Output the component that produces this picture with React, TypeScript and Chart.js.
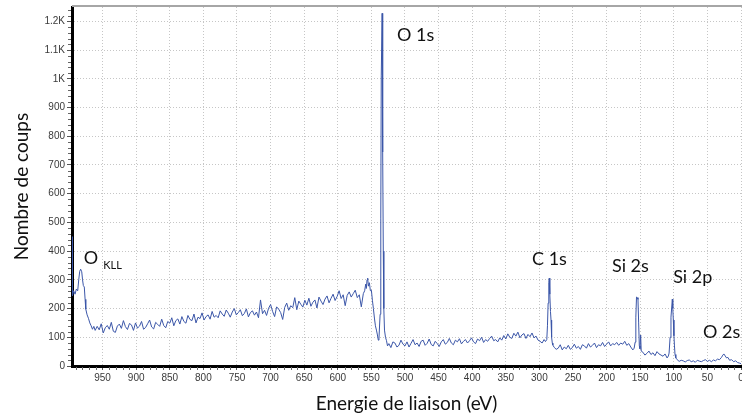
import React, { useEffect, useRef } from "react";
import { Chart, registerables } from "chart.js";

Chart.register(...registerables);

// XPS survey spectrum: [binding energy (eV), counts]
const oKllRegion: [number, number][] = [
  [995.5, 450], [994.8, 245], [993, 262], [991, 250], [989, 268], [987, 262], [985.5, 300],
  [984, 330], [982.6, 337], [981, 328], [979.8, 300], [978.6, 280], [977.2, 275], [976, 232],
  [975, 198], [973, 178], [971, 166], [969, 150], [967, 140], [965, 128], [963, 138], [961, 124],
];

const highEnergyBackground: [number, number][] = [
  [958, 138], [955, 126], [952, 147], [949, 115], [946, 133], [943, 141], [940, 128], [937, 152],
  [934, 121], [931, 117], [928, 139], [925, 146], [922, 131], [919, 158], [916, 137], [913, 127],
  [910, 148], [907, 143], [904, 124], [901, 150], [898, 132], [895, 139], [892, 155], [889, 128],
  [886, 134], [883, 147], [880, 160], [877, 136], [874, 129], [871, 152], [868, 145], [865, 138],
  [862, 163], [859, 141], [856, 133], [853, 155], [850, 149], [847, 168], [844, 140], [841, 158],
  [838, 164], [835, 146], [832, 172], [829, 155], [826, 149], [823, 176], [820, 162], [817, 158],
  [814, 181], [811, 150], [808, 170], [805, 165], [802, 185], [799, 160], [796, 172], [793, 178],
  [790, 163], [787, 190], [784, 170], [781, 176], [778, 168], [775, 192], [772, 181], [769, 173],
  [766, 195], [763, 184], [760, 170], [757, 188], [754, 200], [751, 178], [748, 186], [745, 196],
  [742, 175], [739, 183], [736, 199], [733, 171], [730, 186], [727, 192], [724, 177], [721, 188],
  [718, 168], [715, 230], [712, 182], [709, 194], [706, 176], [703, 201], [700, 214], [697, 190],
  [694, 172], [691, 206], [688, 198], [685, 186], [682, 162], [679, 204], [676, 219], [673, 194],
  [670, 210], [667, 203], [664, 238], [661, 196], [658, 226], [655, 215], [652, 205], [649, 229],
  [646, 212], [643, 236], [640, 208], [637, 222], [634, 230], [631, 202], [628, 240], [625, 226],
  [622, 214], [619, 233], [616, 244], [613, 220], [610, 236], [607, 250], [604, 228], [601, 242],
  [598, 262], [595, 235], [592, 248], [589, 210], [586, 246], [583, 258], [580, 240], [577, 252],
  [574, 264], [571, 238], [568, 248], [565, 206], [562, 252],
];

const o1sRegion: [number, number][] = [
  [560, 262], [558.5, 285], [557.5, 270], [556.5, 300], [555.5, 306], [554.5, 278], [553, 290],
  [551.5, 262], [550, 264], [548.5, 229], [547, 200], [545.5, 167], [544, 140], [542.5, 125],
  [541, 108], [539.7, 90], [538.7, 97], [537, 180], [536, 515], [535.3, 1010], [534, 1228],
  [533.6, 1012], [533.2, 862], [532.8, 745], [532.3, 400], [531.5, 200], [530.5, 125],
  [529, 100], [527.5, 88], [526, 70],
];

const midBackground: [number, number][] = [
  [524, 78], [521, 64], [518, 84], [515, 80], [512, 66], [509, 72], [506, 90], [503, 76],
  [500, 70], [497, 84], [494, 66], [491, 79], [488, 92], [485, 74], [482, 80], [479, 68],
  [476, 86], [473, 90], [470, 72], [467, 79], [464, 94], [461, 75], [458, 70], [455, 86],
  [452, 78], [449, 68], [446, 84], [443, 92], [440, 76], [437, 82], [434, 96], [431, 80],
  [428, 74], [425, 90], [422, 84], [419, 95], [416, 77], [413, 86], [410, 92], [407, 80],
  [404, 88], [401, 98], [398, 84], [395, 78], [392, 94], [389, 88], [386, 100], [383, 82],
  [380, 92], [377, 86], [374, 96], [371, 104], [368, 88], [365, 92], [362, 84], [359, 98],
  [356, 90], [353, 106], [350, 94], [347, 112], [344, 100], [341, 96], [338, 114], [335, 104],
  [332, 118], [329, 98], [326, 108], [323, 113], [320, 96], [317, 110], [314, 102], [311, 115],
  [308, 98], [305, 104], [302, 90], [299, 86], [296, 80], [293, 92],
];

const c1sRegion: [number, number][] = [
  [291, 85], [289, 92], [288, 140], [287, 219], [286, 290], [285.3, 306], [284.5, 250],
  [283.5, 190], [282.7, 160], [281.8, 100], [280.8, 80], [280, 73],
];

const lowBackground: [number, number][] = [
  [278, 65], [275, 58], [272, 62], [269, 74], [266, 56], [263, 66], [260, 60], [257, 72],
  [254, 58], [251, 64], [248, 76], [245, 62], [242, 68], [239, 58], [236, 74], [233, 70],
  [230, 62], [227, 78], [224, 66], [221, 72], [218, 80], [215, 64], [212, 74], [209, 70],
  [206, 82], [203, 68], [200, 76], [197, 84], [194, 70], [191, 78], [188, 74], [185, 82],
  [182, 72], [179, 80], [176, 76], [173, 86], [170, 72], [167, 78], [164, 66], [161, 56],
];

const si2sRegion: [number, number][] = [
  [159, 62], [157.5, 83], [156.5, 170], [155.5, 240], [154.3, 238], [153.3, 232], [152.3, 150],
  [151.3, 70], [150.3, 60], [149.3, 108], [148.5, 52],
];

const siBackground: [number, number][] = [
  [146, 48], [143, 38], [140, 44], [137, 52], [134, 40], [131, 46], [128, 36], [125, 50],
  [122, 42], [119, 38], [116, 34], [113, 42], [110, 28],
];

const si2pRegion: [number, number][] = [
  [108, 35], [107, 45], [105.5, 100], [104.2, 170], [102.2, 233], [101.5, 200], [100.7, 160],
  [99.8, 105], [99, 70], [98.2, 40], [97, 28],
];

const valenceRegion: [number, number][] = [
  [95, 22], [92, 16], [89, 20], [86, 18], [83, 14], [80, 19], [77, 21], [74, 15], [71, 18],
  [68, 13], [65, 20], [62, 17], [59, 15], [56, 19], [53, 22], [50, 16], [47, 20], [44, 15],
  [41, 21], [38, 18], [35, 24], [32, 22], [29, 30], [27, 38], [25.5, 42], [23.5, 35], [21.5, 28],
  [19.5, 30], [17, 20], [14, 22], [11, 15], [8, 18], [5, 12], [2, 10], [0, 8],
];

const spectrum = [
  ...oKllRegion, ...highEnergyBackground, ...o1sRegion, ...midBackground, ...c1sRegion,
  ...lowBackground, ...si2sRegion, ...siBackground, ...si2pRegion, ...valenceRegion,
].map(([x, y]) => ({ x, y }));

// Peak labels (text, energy of left edge, counts at baseline)
const peakTexts = ["O 1s", "O", "KLL", "C 1s", "Si 2s", "Si 2p", "O 2s"];
const peakEnergies = [512, 978, 949, 311, 192, 101, 56.5];
const peakCounts = [1130, 355, 337, 351, 327, 289, 97];
const peakFontSizes = [18, 18, 11, 18, 18, 18, 18];

const X_MAX = 995.5;
const Y_MAX = 1250;

const decorPlugin = {
  id: "decor",
  afterDraw(chart: any) {
    const { ctx, chartArea, scales } = chart;
    const xs = scales.x;
    const ys = scales.y;
    ctx.save();
    // top frame line
    ctx.strokeStyle = "#a6a6a6";
    ctx.lineWidth = 2;
    ctx.beginPath();
    ctx.moveTo(chartArea.left, chartArea.top - 1);
    ctx.lineTo(chartArea.right + 2, chartArea.top - 1);
    ctx.stroke();
    // minor ticks
    ctx.strokeStyle = "#666";
    ctx.lineWidth = 1;
    ctx.beginPath();
    for (let v = 20; v < Y_MAX; v += 20) {
      if (v % 100 === 0) continue;
      const y = Math.round(ys.getPixelForValue(v)) + 0.5;
      ctx.moveTo(chartArea.left - 4, y);
      ctx.lineTo(chartArea.left - 1, y);
    }
    for (let e = 10; e < X_MAX; e += 10) {
      if (e % 50 === 0) continue;
      const x = Math.round(xs.getPixelForValue(e)) + 0.5;
      ctx.moveTo(x, chartArea.bottom + 1);
      ctx.lineTo(x, chartArea.bottom + 4);
    }
    ctx.stroke();
    // peak labels
    ctx.fillStyle = "#111";
    ctx.textAlign = "left";
    ctx.textBaseline = "alphabetic";
    for (let i = 0; i < peakTexts.length; i++) {
      ctx.font = `${peakFontSizes[i]}px Lato`;
      ctx.fillText(peakTexts[i], xs.getPixelForValue(peakEnergies[i]), ys.getPixelForValue(peakCounts[i]));
    }
    ctx.restore();
  },
};

export default function App() {
  const canvasRef = useRef<HTMLCanvasElement | null>(null);

  useEffect(() => {
    if (!canvasRef.current) return;
    const chart = new Chart(canvasRef.current, {
      type: "line",
      data: {
        datasets: [
          {
            data: spectrum,
            borderColor: "#3b56a8",
            borderWidth: 1,
            pointRadius: 0,
            tension: 0,
            fill: false,
          },
        ],
      },
      options: {
        animation: false,
        responsive: false,
        devicePixelRatio: 1,
        layout: { padding: { top: 7, right: 1, bottom: 0, left: 0 } },
        plugins: { legend: { display: false }, tooltip: { enabled: false } },
        scales: {
          x: {
            type: "linear",
            reverse: true,
            min: 0,
            max: X_MAX,
            afterBuildTicks: (scale: any) => {
              scale.ticks = scale.ticks.filter((t: any) => t.value % 50 === 0);
            },
            afterFit: (scale: any) => {
              scale.height = 50;
              scale.paddingLeft = 0;
              scale.paddingRight = 0;
            },
            ticks: {
              stepSize: 50,
              includeBounds: false,
              autoSkip: false,
              maxRotation: 0,
              padding: 2,
              color: "#3a3a3a",
              font: { family: "'Liberation Sans', Arial, sans-serif", size: 10 },
              callback: (v: any) => String(v),
            },
            grid: {
              color: "#c6c6c6",
              lineWidth: 1,
              tickLength: 4,
              tickColor: "#555",
              tickBorderDash: [],
            },
            border: { display: true, color: "#000", width: 3, dash: [1, 2] },
            title: {
              display: true,
              text: "Energie de liaison (eV)",
              color: "#111",
              font: { family: "Lato", size: 19 },
              padding: { top: 0, bottom: 1 },
            },
          },
          y: {
            type: "linear",
            min: 0,
            max: Y_MAX,
            afterBuildTicks: (scale: any) => {
              scale.ticks = scale.ticks.filter((t: any) => t.value % 100 === 0 && t.value <= 1200);
            },
            afterFit: (scale: any) => {
              scale.width = 72;
              scale.paddingTop = 0;
              scale.paddingBottom = 0;
            },
            ticks: {
              stepSize: 100,
              includeBounds: false,
              padding: 2,
              color: "#3a3a3a",
              font: { family: "'Liberation Sans', Arial, sans-serif", size: 10 },
              callback: (v: any) => (v >= 1000 ? `${v / 1000}K` : String(v)),
            },
            grid: {
              color: "#c6c6c6",
              lineWidth: 1,
              tickLength: 5,
              tickColor: "#555",
              tickBorderDash: [],
            },
            border: { display: true, color: "#000", width: 3, dash: [1, 2] },
            title: {
              display: true,
              text: "Nombre de coups",
              color: "#111",
              font: { family: "Lato", size: 19 },
              padding: { top: 10, bottom: 0 },
            },
          },
        },
      },
      plugins: [decorPlugin],
    } as any);
    return () => chart.destroy();
  }, []);

  return (
    <div style={{ position: "absolute", left: 0, top: 0, width: 742, height: 416 }}>
      <canvas ref={canvasRef} width={742} height={416} />
    </div>
  );
}
